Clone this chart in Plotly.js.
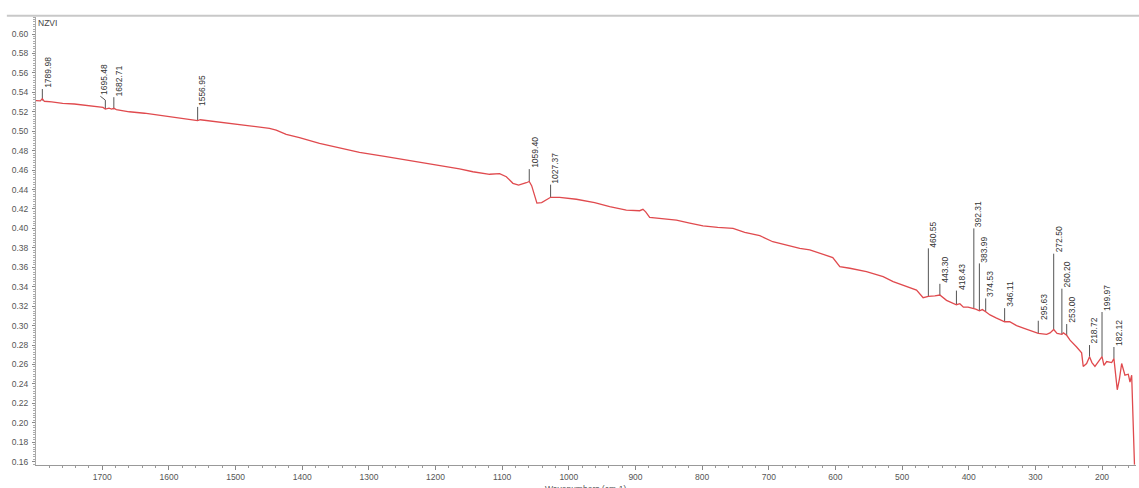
<!DOCTYPE html>
<html>
<head>
<meta charset="utf-8">
<script src="https://cdn.plot.ly/plotly-3.0.1.min.js"></script>
<style>html,body{margin:0;padding:0;background:#fff;}#chart{width:1139px;height:488px;}</style>
</head>
<body>
<div id="chart"></div>
<script>
// Spectrum (wavenumber in cm-1, signal)
const wavenumber = [1800.5,1796,1793,1789.98,1787,1776,1759.5,1742,1719.4,1704.5,1699,1695.48,1690,1686,1682.71,1679,1659.5,1636.8,1609.4,1584.3,1569,1560,1556.95,1553,1539.3,1509.2,1479,1449.2,1439.1,1424.1,1404.2,1374.1,1344.1,1314.1,1276.5,1244,1216.5,1194,1164,1144,1118.9,1103.9,1093.8,1083.9,1075.4,1063.8,1059.4,1055.8,1047.9,1040.8,1028.8,1027.37,1013.8,988.7,961.3,938.7,913.7,893.7,888.8,884.7,878.7,856.2,838.6,818.6,798.7,776.6,753.6,736.1,713.5,694,673,653.5,638.5,623.5,604,593.4,578.4,553.4,528.4,513.4,493.3,478.3,468.4,460.55,450.8,443.3,433.3,425.3,418.43,413.3,408,401,392.31,389.5,383.99,379.5,374.53,368,359,346.11,338.5,328.2,315.8,305.4,295.63,283.1,278,272.5,267.4,260.2,257.9,253.0,248,238.1,230.6,228.2,223.1,218.72,215.1,210.6,203.1,199.97,197.1,193,185.5,182.12,177.1,173.9,170.5,165.6,160.6,158,155.5,154,152.8,151.3];
const signal = [0.5315,0.5310,0.5312,0.5335,0.5308,0.5302,0.5287,0.5280,0.5262,0.5250,0.5245,0.5228,0.5238,0.5228,0.5236,0.5222,0.5200,0.5185,0.5160,0.5135,0.5125,0.5120,0.5110,0.5118,0.5105,0.5080,0.5055,0.5030,0.5012,0.4968,0.4935,0.4875,0.4830,0.4783,0.4740,0.4704,0.4672,0.4645,0.4612,0.4583,0.4557,0.4563,0.4532,0.4464,0.4445,0.4470,0.4483,0.4440,0.4260,0.4265,0.4318,0.4320,0.4320,0.4300,0.4265,0.4223,0.4189,0.4182,0.4196,0.4170,0.4114,0.4100,0.4086,0.4055,0.4025,0.4010,0.4001,0.3960,0.3925,0.3863,0.3825,0.3795,0.3780,0.3744,0.3700,0.3606,0.3590,0.3555,0.3503,0.3452,0.3400,0.3366,0.3287,0.3300,0.3305,0.3315,0.3260,0.3235,0.3215,0.3225,0.3190,0.3190,0.3180,0.3170,0.3153,0.3165,0.3143,0.3110,0.3080,0.3040,0.3040,0.3000,0.2970,0.2945,0.2920,0.2910,0.2925,0.2960,0.2920,0.2910,0.2925,0.2900,0.2850,0.2780,0.2720,0.2580,0.2610,0.2680,0.2620,0.2580,0.2650,0.2680,0.2590,0.2630,0.2620,0.2660,0.2340,0.2450,0.2610,0.2490,0.2500,0.2420,0.2490,0.2130,0.1700,0.1570];

// Peak picks
const peakWn   = [1789.98,1695.48,1682.71,1556.95,1059.40,1027.37,460.55,443.30,418.43,392.31,383.99,374.53,346.11,295.63,272.50,260.20,253.00,218.72,199.97,182.12];
const peakBase = [0.5315,0.5228,0.5225,0.5115,0.4480,0.4320,0.3300,0.3305,0.3215,0.3180,0.3153,0.3143,0.3040,0.2920,0.2960,0.2910,0.2900,0.2680,0.2680,0.2660];
const peakTop  = [0.5434,0.5360,0.5350,0.5250,0.4610,0.4450,0.3795,0.3430,0.3360,0.4000,0.3640,0.3280,0.3180,0.3050,0.3740,0.3380,0.3016,0.2800,0.3140,0.2780];

const xTickStep = 100;
const yTickStep = 0.02;
const chartTitle = 'NZVI';
const xTitle = 'Wavenumbers (cm-1)';

const FONT = '"Liberation Sans", Arial, sans-serif';

// marker lines as one trace
const lx = [], ly = [];
peakWn.forEach((w, i) => {
  if (i === 1) {
    lx.push(w, w, w + 7.5, null);
    ly.push(peakBase[i], peakTop[i] - 0.004, peakTop[i], null);
  } else {
    lx.push(w, w, null);
    ly.push(peakBase[i], peakTop[i], null);
  }
});

const traces = [
  {x: lx, y: ly, type: 'scatter', mode: 'lines', line: {color: '#555', width: 1}, hoverinfo: 'skip', showlegend: false},
  {x: wavenumber, y: signal, type: 'scatter', mode: 'lines', line: {color: '#e04a4e', width: 1.3}, showlegend: false}
];

const annotations = peakWn.map((w, i) => ({
  x: w, y: peakTop[i], xref: 'x', yref: 'y',
  text: w.toFixed(2), showarrow: false, textangle: -90,
  xanchor: 'center', yanchor: 'bottom',
  xshift: i === 1 ? -2 : 5, yshift: 0, borderpad: 0,
  font: {family: FONT, size: 8.5, color: '#333'}
}));
annotations.push({
  x: 0.5, y: 0, xref: 'paper', yref: 'paper', text: xTitle, showarrow: false,
  xanchor: 'center', yanchor: 'top', yshift: -18, borderpad: 0,
  font: {family: FONT, size: 8.5, color: '#555'}
});

const layout = {
  width: 1139, height: 488,
  margin: {l: 36, r: 3, t: 17, b: 23, pad: 0},
  paper_bgcolor: '#fff', plot_bgcolor: '#fff',
  title: {text: chartTitle, font: {family: FONT, size: 8.5, color: '#444'}, xref: 'container', yref: 'container', x: 38/1139, xanchor: 'left', y: 1 - 23/488, yanchor: 'middle'},
  xaxis: {
    range: [1799.5, 149], autorange: false,
    tick0: 0, dtick: xTickStep, tickmode: 'linear',
    ticks: 'outside', ticklen: 4, tickcolor: '#888', tickwidth: 1,
    minor: {dtick: 20, ticks: 'outside', ticklen: 2, tickcolor: '#999'},
    showgrid: false, zeroline: false,
    showline: true, linecolor: '#999', linewidth: 1,
    tickfont: {family: FONT, size: 8.5, color: '#555'}
  },
  yaxis: {
    range: [0.1566, 0.6175], autorange: false,
    tick0: 0.16, dtick: yTickStep, tickmode: 'linear', tickformat: '.2f',
    ticks: 'outside', ticklen: 3, tickcolor: '#888', tickwidth: 1,
    minor: {dtick: 0.0025, ticks: 'outside', ticklen: 2, tickcolor: '#aaa'},
    showgrid: false, zeroline: false,
    showline: true, linecolor: '#aaa', linewidth: 1,
    tickfont: {family: FONT, size: 8.5, color: '#555'},
    ticklabelstandoff: 2
  },
  shapes: [
    {type: 'line', xref: 'paper', yref: 'paper', x0: -0.0265, x1: 1.003, y0: 1.003, y1: 1.003, line: {color: '#c8c8c8', width: 2}}
  ],
  annotations: annotations,
  hovermode: false
};

Plotly.newPlot('chart', traces, layout, {displayModeBar: false, staticPlot: true});
</script>
</body>
</html>
